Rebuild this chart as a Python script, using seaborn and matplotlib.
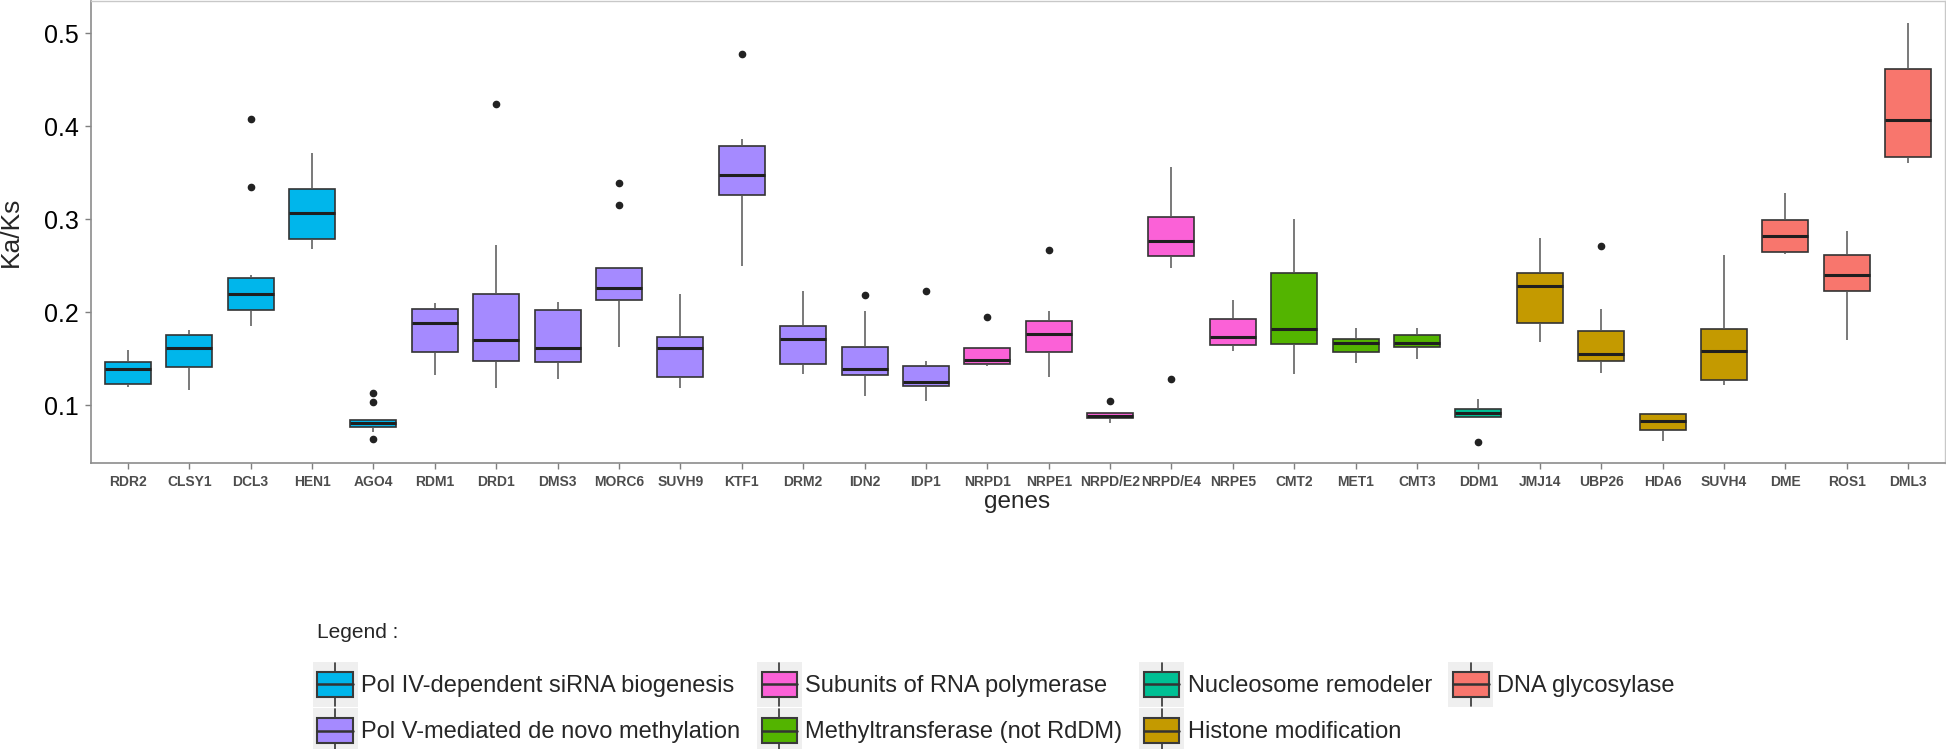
import numpy as np
import pandas as pd
import matplotlib
matplotlib.use("Agg")
import matplotlib.pyplot as plt
import seaborn as sns
from matplotlib.legend_handler import HandlerBase
from matplotlib.patches import Rectangle, Patch
from matplotlib.lines import Line2D

# Ka/Ks box statistics per gene
genes = ["RDR2", "CLSY1", "DCL3", "HEN1", "AGO4", "RDM1", "DRD1", "DMS3", "MORC6", "SUVH9",
         "KTF1", "DRM2", "IDN2", "IDP1", "NRPD1", "NRPE1", "NRPD/E2", "NRPD/E4", "NRPE5", "CMT2",
         "MET1", "CMT3", "DDM1", "JMJ14", "UBP26", "HDA6", "SUVH4", "DME", "ROS1", "DML3"]

groups = ["Pol IV-dependent siRNA biogenesis"] * 5 + \
         ["Pol V-mediated de novo methylation"] * 9 + \
         ["Subunits of RNA polymerase"] * 5 + \
         ["Methyltransferase (not RdDM)"] * 3 + \
         ["Nucleosome remodeler"] + \
         ["Histone modification"] * 4 + \
         ["DNA glycosylase"] * 3

whisker_lo = [0.120, 0.116, 0.185, 0.268, 0.071, 0.132, 0.118, 0.128, 0.163, 0.118,
              0.250, 0.134, 0.110, 0.105, 0.142, 0.130, 0.081, 0.248, 0.158, 0.134,
              0.145, 0.150, 0.086, 0.168, 0.135, 0.061, 0.122, 0.263, 0.170, 0.360]
q1 = [0.123, 0.141, 0.202, 0.279, 0.0762, 0.157, 0.148, 0.146, 0.213, 0.130,
      0.326, 0.144, 0.132, 0.121, 0.144, 0.157, 0.086, 0.260, 0.165, 0.166,
      0.157, 0.163, 0.0875, 0.188, 0.148, 0.073, 0.127, 0.265, 0.223, 0.367]
median = [0.139, 0.161, 0.219, 0.307, 0.081, 0.188, 0.170, 0.162, 0.226, 0.161,
          0.348, 0.171, 0.139, 0.125, 0.149, 0.177, 0.088, 0.277, 0.173, 0.182,
          0.167, 0.167, 0.092, 0.228, 0.155, 0.083, 0.158, 0.282, 0.240, 0.407]
q3 = [0.146, 0.175, 0.237, 0.332, 0.0839, 0.203, 0.220, 0.202, 0.248, 0.173,
      0.379, 0.185, 0.163, 0.142, 0.162, 0.190, 0.092, 0.302, 0.193, 0.242,
      0.171, 0.175, 0.096, 0.242, 0.180, 0.090, 0.182, 0.299, 0.262, 0.461]
whisker_hi = [0.159, 0.181, 0.240, 0.371, 0.0839, 0.210, 0.272, 0.211, 0.249, 0.220,
              0.386, 0.223, 0.201, 0.147, 0.162, 0.201, 0.092, 0.356, 0.213, 0.300,
              0.183, 0.183, 0.107, 0.280, 0.203, 0.091, 0.262, 0.328, 0.287, 0.511]
outliers = [[], [], [0.335, 0.408], [], [0.064, 0.103, 0.113], [], [0.424], [], [0.315, 0.339], [],
            [0.478], [], [0.218], [0.223], [0.195], [0.267], [0.104], [0.128], [], [],
            [], [], [0.060], [], [0.271], [], [], [], [], []]

group_order = ["Pol IV-dependent siRNA biogenesis", "Pol V-mediated de novo methylation",
               "Subunits of RNA polymerase", "Methyltransferase (not RdDM)",
               "Nucleosome remodeler", "Histone modification", "DNA glycosylase"]
group_colors = ["#00B6EB", "#A58AFF", "#FB61D7", "#53B400", "#00C094", "#C49A00", "#F8766D"]
palette = dict(zip(group_order, group_colors))

# Build 13 values per gene so that np.percentile gives back exactly q1 / median / q3
rows = []
for i, g in enumerate(genes):
    low_out = sorted(v for v in outliers[i] if v < q1[i])
    high_out = sorted(v for v in outliers[i] if v > q3[i])
    low = low_out + [whisker_lo[i]] * (3 - len(low_out))
    high = [whisker_hi[i]] * (3 - len(high_out)) + high_out
    vals = low + [q1[i], median[i], median[i], median[i], median[i], median[i], q3[i]] + high
    for v in vals:
        rows.append({"gene": g, "group": groups[i], "kaks": v})
df = pd.DataFrame(rows)

sns.set_theme(style="white")
plt.rcParams["font.family"] = ["Liberation Sans", "DejaVu Sans"]

W, H = 1946, 749
fig = plt.figure(figsize=(W / 100, H / 100), dpi=100)
ax = fig.add_axes([91 / W, 1 - 463 / H, (1945 - 91) / W, 462 / H])

sns.boxplot(data=df, x="gene", y="kaks", hue="group", order=genes, palette=palette,
            saturation=1, dodge=False, width=0.75, linecolor="#333333", linewidth=1.2,
            legend=False, showcaps=False, ax=ax,
            medianprops=dict(color="#1f1f1f", linewidth=2.2),
            whiskerprops=dict(color="#555555", linewidth=1.1),
            flierprops=dict(marker="o", markerfacecolor="#222222", markeredgecolor="#222222",
                            markersize=4.5))

ax.set_xlim(-0.6, 29.6)
ax.set_ylim(0.0378, 0.5346)
ax.set_yticks([0.1, 0.2, 0.3, 0.4, 0.5])
ax.set_yticklabels(["0.1", "0.2", "0.3", "0.4", "0.5"], fontsize=18, color="black")
ax.set_xticks(range(len(genes)))
ax.set_xticklabels(genes, fontsize=10, fontweight="bold", color="#4D4D4D")
ax.tick_params(axis="both", which="major", length=4, width=1, color="#7F7F7F",
               bottom=True, left=True, pad=5)
ax.tick_params(axis="x", pad=4.5)

for side in ["left", "bottom"]:
    ax.spines[side].set_color("#8C8C8C")
    ax.spines[side].set_linewidth(1.2)
for side in ["top", "right"]:
    ax.spines[side].set_color("#C8C8C8")
    ax.spines[side].set_linewidth(1.0)

ax.set_xlabel("")
ax.set_ylabel("Ka/Ks", fontsize=19)
ax.yaxis.set_label_coords(-0.037, 0.5)
fig.text(1017 / W, 1 - 508 / H, "genes", fontsize=17.5, ha="center", va="baseline")


# Legend keys drawn like small boxplots on a grey tile
class BoxKeyHandler(HandlerBase):
    def create_artists(self, legend, orig_handle, xdescent, ydescent, width, height,
                       fontsize, trans):
        x0, y0 = -xdescent, -ydescent
        bg = Rectangle((x0, y0), width, height, facecolor="#EFEFEF", edgecolor="none",
                       transform=trans)
        bw = width * 0.8
        bx = x0 + (width - bw) / 2
        by = y0 + height * 0.22
        bh = height * 0.56
        cx = x0 + width / 2
        w1 = Line2D([cx, cx], [y0 + height * 0.02, by], color="#333333", lw=1.2, transform=trans)
        w2 = Line2D([cx, cx], [by + bh, y0 + height * 0.98], color="#333333", lw=1.2,
                    transform=trans)
        box = Rectangle((bx, by), bw, bh, facecolor=orig_handle.get_facecolor(),
                        edgecolor="#3a3a3a", lw=1.5, transform=trans)
        med = Line2D([bx, bx + bw], [by + bh / 2] * 2, color="#333333", lw=1.8,
                     transform=trans)
        return [bg, w1, w2, box, med]


handles = [Patch(facecolor=c) for c in group_colors]
fig.text(317 / W, 1 - 638 / H, "Legend :", fontsize=15, va="baseline")
fig.legend(handles, group_order, handler_map={Patch: BoxKeyHandler()},
           loc="upper left", bbox_to_anchor=(313 / W, 1 - 662 / H), ncol=4, frameon=False,
           borderpad=0, borderaxespad=0, handlelength=1.9, handleheight=2.55,
           labelspacing=0.05, handletextpad=0.15, columnspacing=0.7,
           prop={"size": 17})

fig.savefig("out.png", dpi=100)
print("saved out.png")
